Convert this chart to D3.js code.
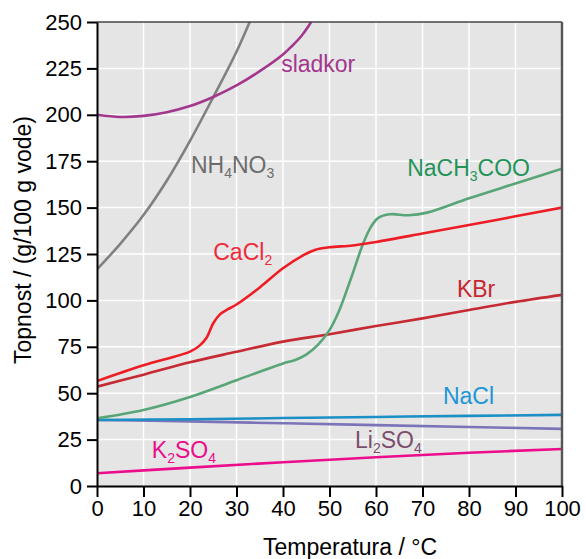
<!DOCTYPE html>
<html>
<head>
<meta charset="utf-8">
<script src="https://cdn.jsdelivr.net/npm/d3@7"></script>
<style>
  body { margin: 0; background: #fff; }
  svg text { font-family: "Liberation Sans", Arial, sans-serif; }
</style>
</head>
<body>
<div id="chart"></div>
<script>
// solubility data, [temperature, g per 100 g water]
var sladkor = [[0,200],[5,198.8],[10,199.4],[15,201.4],[20,204.7],[25,209.6],[30,215.8],[35,223.5],[40,232.5],[42,237.2],[44,242.6],[45.5,247.8],[46.5,252]];
var nh4no3 = [[0,116.7],[5,130.5],[10,146],[15,164.5],[20,186],[25,209.5],[30,234],[33,251]];
var cacl2 = [[0,56.5],[10,65],[20,72.4],[22,75.5],[23.6,80],[25,87.7],[26.5,92.6],[28,95],[30,97.8],[35,107],[40,117.3],[44.5,124.5],[47,127.3],[50,128.6],[55,129.6],[60,131.5],[70,136],[80,140.6],[90,145.3],[100,150]];
var kbr = [[0,53.5],[10,60],[20,66.7],[30,72.3],[40,77.8],[50,81.8],[60,86.2],[70,90.3],[80,94.8],[90,99.2],[100,103]];
var nach3coo = [[0,36.5],[10,41],[20,48],[30,57],[40,66],[42.5,67.8],[45,70.8],[47.5,76],[50,84],[52,94],[54.5,111],[57.3,131],[59,140],[60.5,144.5],[63,146.4],[67,145.9],[71,147.3],[80,155],[90,163],[100,171]];
var nacl = [[0,35.6],[20,36],[40,36.6],[60,37.2],[80,37.8],[100,38.3]];
var li2so4 = [[0,35.6],[20,34.8],[40,33.8],[60,32.8],[80,31.8],[100,30.8]];
var k2so4 = [[0,6.9],[20,9.9],[40,12.8],[60,15.5],[80,17.9],[100,19.9]];

var xTicks = [0,10,20,30,40,50,60,70,80,90,100];
var yTicks = [0,25,50,75,100,125,150,175,200,225,250];

// name parts: [text, isSubscript]
var series = [
  {data: li2so4, color: '#7b74b9', label: [['Li',0],['2',1],['SO',0],['4',1]], lc: '#7b4e6e', at: [55.5,20.4]},
  {data: nacl, color: '#1b8fc6', label: [['NaCl',0]], lc: '#1d96d6', at: [74.4,44.2]},
  {data: k2so4, color: '#ec0c8c', label: [['K',0],['2',1],['SO',0],['4',1]], lc: '#ec0c8c', at: [11.8,15.1]},
  {data: kbr, color: '#c62a33', label: [['KBr',0]], lc: '#c8262f', at: [77.4,101.8]},
  {data: nach3coo, color: '#58a577', label: [['NaCH',0],['3',1],['COO',0]], lc: '#24935a', at: [66.7,167]},
  {data: cacl2, color: '#ee1d25', label: [['CaCl',0],['2',1]], lc: '#ee2b3b', at: [25,121.7]},
  {data: nh4no3, color: '#808080', label: [['NH',0],['4',1],['NO',0],['3',1]], lc: '#6d6d6d', at: [20.2,168.6]},
  {data: sladkor, color: '#a3378e', label: [['sladkor',0]], lc: '#a3378e', at: [39.6,223]}
];

var margin = {top: 22, right: 24, bottom: 73, left: 97};
var W = 586, H = 559;
var w = W - margin.left - margin.right, h = H - margin.top - margin.bottom;

var svg = d3.select('#chart').append('svg')
  .attr('width', W)
  .attr('height', H);

var g = svg.append('g').attr('transform', 'translate(' + margin.left + ',' + margin.top + ')');

var x = d3.scaleLinear().domain([0, 100]).range([0, w]);
var y = d3.scaleLinear().domain([0, 250]).range([h, 0]);

g.append('rect').attr('width', w).attr('height', h).attr('fill', '#e5e5e5');

g.append('clipPath').attr('id', 'clip')
  .append('rect').attr('width', w).attr('height', h);

// grid
g.selectAll('line.gx').data(xTicks.slice(1, -1)).enter().append('line')
  .attr('x1', function (d) { return x(d); }).attr('x2', function (d) { return x(d); })
  .attr('y1', 0).attr('y2', h)
  .attr('stroke', '#fff').attr('stroke-width', 1.5);
g.selectAll('line.gy').data(yTicks.slice(1, -1)).enter().append('line')
  .attr('y1', function (d) { return y(d); }).attr('y2', function (d) { return y(d); })
  .attr('x1', 0).attr('x2', w)
  .attr('stroke', '#fff').attr('stroke-width', 1.5);

var line = d3.line()
  .x(function (d) { return x(d[0]); })
  .y(function (d) { return y(d[1]); })
  .curve(d3.curveCatmullRom.alpha(0.5));

var lines = g.append('g').attr('clip-path', 'url(#clip)');
lines.selectAll('path').data(series).enter().append('path')
  .attr('d', function (d) { return line(d.data); })
  .attr('fill', 'none')
  .attr('stroke', function (d) { return d.color; })
  .attr('stroke-width', 2.6)
  .attr('stroke-linejoin', 'round');

// frame top / right
g.append('line').attr('x1', 0).attr('x2', w).attr('y1', 0).attr('y2', 0)
  .attr('stroke', '#444').attr('stroke-width', 1.6);
g.append('line').attr('x1', w).attr('x2', w).attr('y1', 0).attr('y2', h)
  .attr('stroke', '#555').attr('stroke-width', 2.4);

// axes
var xAxis = g.append('g').attr('transform', 'translate(0,' + h + ')')
  .call(d3.axisBottom(x).tickValues(xTicks).tickSize(11).tickSizeOuter(0).tickPadding(3));
var yAxis = g.append('g')
  .call(d3.axisLeft(y).tickValues(yTicks).tickSize(10).tickSizeOuter(0).tickPadding(5));

[xAxis, yAxis].forEach(function (a) {
  a.select('.domain').attr('stroke', '#000').attr('stroke-width', 2);
  a.selectAll('.tick line').attr('stroke', '#000').attr('stroke-width', 2);
  a.selectAll('.tick text').attr('font-size', 22).attr('fill', '#000')
    .style('font-family', '"Liberation Sans", Arial, sans-serif');
});

// labels
var lbl = g.selectAll('text.lbl').data(series).enter().append('text')
  .attr('class', 'lbl')
  .attr('x', function (d) { return x(d.at[0]); })
  .attr('y', function (d) { return y(d.at[1]); })
  .attr('fill', function (d) { return d.lc; })
  .attr('font-size', 23);

lbl.each(function (d) {
  var t = d3.select(this);
  var sub = false;
  d.label.forEach(function (p) {
    var s = t.append('tspan').text(p[0]);
    if (p[1]) {
      s.attr('font-size', 14).attr('dy', 5);
      sub = true;
    } else if (sub) {
      s.attr('dy', -5);
      sub = false;
    }
  });
});

// axis titles
svg.append('text')
  .attr('x', 350).attr('y', 555)
  .attr('text-anchor', 'middle')
  .attr('font-size', 23)
  .text('Temperatura / °C');

svg.append('text')
  .attr('transform', 'translate(31,240) rotate(-90)')
  .attr('text-anchor', 'middle')
  .attr('font-size', 23)
  .text('Topnost / (g/100 g vode)');
</script>
</body>
</html>
